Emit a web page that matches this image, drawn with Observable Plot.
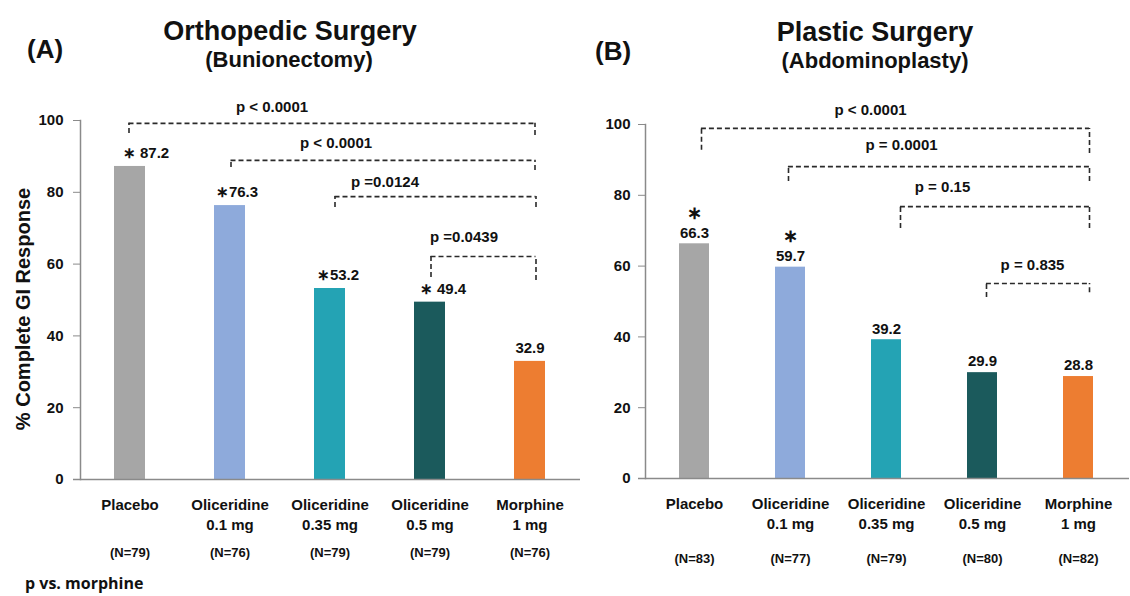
<!DOCTYPE html>
<html><head><meta charset="utf-8">
<script src="https://cdn.jsdelivr.net/npm/d3@7"></script>
<script src="https://cdn.jsdelivr.net/npm/@observablehq/plot@0.6"></script>
<style>
body{margin:0;background:#fff;}
#wrap{position:relative;width:1130px;height:596px;overflow:hidden;font-family:"Liberation Sans",Arial,sans-serif;color:#111;}
.t{position:absolute;font-weight:bold;white-space:nowrap;line-height:1;}
.c{transform:translateX(-50%);}
#pa{position:absolute;left:0;top:0;}
#pb{position:absolute;left:580px;top:0;}
</style></head><body>
<div id="wrap">
  <div id="pa"></div>
  <div id="pb"></div>
  <div class="t" style="left:27px;top:36px;font-size:26px;">(A)</div>
  <div class="t c" style="left:290px;top:18px;font-size:27px;">Orthopedic Surgery</div>
  <div class="t c" style="left:289px;top:49px;font-size:22px;">(Bunionectomy)</div>
  <div class="t" style="left:595px;top:38px;font-size:26px;">(B)</div>
  <div class="t c" style="left:875px;top:19px;font-size:27px;">Plastic Surgery</div>
  <div class="t c" style="left:875px;top:50px;font-size:22px;">(Abdominoplasty)</div>
  <div class="t" style="left:25px;top:575px;font-size:16px;font-family:'Open Sans',sans-serif;">p vs. morphine</div>
</div>
<script>
// ---- data ----
const categories = ["Placebo", "Oliceridine 0.1 mg", "Oliceridine 0.35 mg", "Oliceridine 0.5 mg", "Morphine 1 mg"];
const tickLabels = ["Placebo", "Oliceridine\n0.1 mg", "Oliceridine\n0.35 mg", "Oliceridine\n0.5 mg", "Morphine\n1 mg"];
const barColors = ["#a6a6a6", "#8eaadb", "#24a3b4", "#1b5a5c", "#ed7d31"];

const valuesA = [87.2, 76.3, 53.2, 49.4, 32.9];
const starredA = [true, true, true, true, false];
const nA = [79, 76, 79, 79, 76];

const valuesB = [66.3, 59.7, 39.2, 29.9, 28.8];
const starredB = [true, true, false, false, false];
const nB = [83, 77, 79, 80, 82];

const yTicks = [0, 20, 40, 60, 80, 100];
const yTitle = "% Complete GI Response";

// brackets: comparison vs morphine
const bracketsA = [
  {from: "Placebo", to: "Morphine 1 mg", top: 99.2, leftEnd: 96.4, rightEnd: 95.8, p: "p < 0.0001", labelY: 103.6},
  {from: "Oliceridine 0.1 mg", to: "Morphine 1 mg", top: 88.9, leftEnd: 86.9, rightEnd: 86.1, p: "p < 0.0001", labelY: 93.6},
  {from: "Oliceridine 0.35 mg", to: "Morphine 1 mg", top: 78.8, leftEnd: 75.8, rightEnd: 75.8, p: "p =0.0124", labelY: 82.7},
  {from: "Oliceridine 0.5 mg", to: "Morphine 1 mg", top: 62.1, leftEnd: 56.3, rightEnd: 55.4, p: "p =0.0439", labelY: 67.4}
];
const bracketsB = [
  {from: "Placebo", to: "Morphine 1 mg", top: 98.9, leftEnd: 92.7, rightEnd: 91.8, p: "p < 0.0001", labelY: 104.0},
  {from: "Oliceridine 0.1 mg", to: "Morphine 1 mg", top: 88.1, leftEnd: 83.9, rightEnd: 83.9, p: "p = 0.0001", labelY: 94.1},
  {from: "Oliceridine 0.35 mg", to: "Morphine 1 mg", top: 76.8, leftEnd: 70.6, rightEnd: 70.6, p: "p = 0.15", labelY: 82.2},
  {from: "Oliceridine 0.5 mg", to: "Morphine 1 mg", top: 55.1, leftEnd: 51.1, rightEnd: 52.5, p: "p = 0.835", labelY: 60.2}
];

// ---- layout nudges (pixels) ----
const nudgeA = [{l: -1, r: 5, t: -258}, {l: 1, r: 5, t: -194}, {l: 5, r: 6, t: -145}, {l: 1, r: 6, t: -66}];
const nudgeB = [{l: 7, r: 11, t: -208}, {l: -2, r: 11, t: -177}, {l: 14, r: 11, t: -136}, {l: 4, r: 11, t: -46}];
const valueLabelDxA = [16, 7, 8, 13, 0];

const FONT = "'Liberation Sans', Arial, sans-serif";
const PADI = 0.69, PADO = 0.345;
const INK = "#111";

function rows(values, starred, ns) {
  return categories.map((c, i) => ({cat: c, value: values[i], star: starred[i], n: ns[i], color: barColors[i], i}));
}

function bracketMarks(brs, nudges, bw) {
  const st = {stroke: "#2a2a2a", strokeWidth: 1.6, strokeDasharray: "5,3"};
  return brs.flatMap((b, i) => {
    const n = nudges[i];
    return [
      Plot.ruleX([b], {x: "from", y1: "leftEnd", y2: "top", dx: n.l, ...st}),
      Plot.ruleX([b], {x: "to", y1: "rightEnd", y2: "top", dx: n.r, ...st}),
      Plot.ruleY([b], {x1: "from", x2: "to", y: "top", insetLeft: bw / 2 + n.l, insetRight: bw / 2 - n.r, ...st}),
      Plot.text([b], {x: "to", y: "labelY", text: "p", dx: n.t, fontSize: 15, fill: INK})
    ];
  });
}

function panel(opts) {
  const {data, brs, nudges, width, height, mL, mR, mT, mB, tickPad, nDy, variant} = opts;
  const range = width - mL - mR;
  const step = range / (categories.length - PADI + 2 * PADO);
  const bw = step * (1 - PADI);
  const marks = [
    Plot.barY(data, {x: "cat", y: "value", fill: "color"}),
    Plot.ruleY([0], {stroke: "#8a8a8a", strokeWidth: 1.5, insetLeft: -7, insetRight: -3}),
    Plot.frame({anchor: "left", stroke: "#8a8a8a", strokeWidth: 1.5}),
    Plot.axisY({ticks: yTicks, tickSize: 7, tickPadding: tickPad, stroke: "#8a8a8a", fill: INK, fontSize: 15, label: null}),
    Plot.axisX({tickSize: 0, tickPadding: 16, tickFormat: (c) => tickLabels[categories.indexOf(c)], fontSize: 15, lineHeight: 1.33, fill: INK, label: null}),
    Plot.text(data, {x: "cat", y: 0, text: (d) => `(N=${d.n})`, dy: nDy, fontSize: 13, fill: INK}),
    ...bracketMarks(brs, nudges, bw)
  ];
  if (variant === "A") {
    for (const d of data) {
      marks.push(Plot.text([d], {
        x: "cat", y: "value",
        text: (r) => (r.star ? (r.i === 0 || r.i === 3 ? "\u2217 " : "\u2217") : "") + r.value.toFixed(1),
        dx: valueLabelDxA[d.i], dy: -13, fontSize: 15, fill: INK
      }));
    }
    marks.push(Plot.text([yTitle], {text: (d) => d, frameAnchor: "left", textAnchor: "middle", rotate: -90, dx: -57, dy: 9, fontSize: 20, fill: INK}));
  } else {
    marks.push(Plot.text(data, {x: "cat", y: "value", text: (d) => d.value.toFixed(1), dy: -11, fontSize: 15, fill: INK}));
    marks.push(Plot.text(data.filter((d) => d.star), {x: "cat", y: "value", text: () => "\u2217", dy: -31, fontSize: 18, fill: INK}));
  }
  return Plot.plot({
    width, height,
    marginLeft: mL, marginRight: mR, marginTop: mT, marginBottom: mB,
    style: {fontFamily: FONT, fontWeight: "bold", fontSize: "15px", background: "transparent", color: INK},
    x: {type: "band", domain: categories, paddingInner: PADI, paddingOuter: PADO},
    y: {domain: [0, 100]},
    color: {type: "identity"},
    marks
  });
}

const dataA = rows(valuesA, starredA, nA);
const dataB = rows(valuesB, starredB, nB);

const plotA = panel({data: dataA, brs: bracketsA, nudges: nudgeA, width: 580, height: 596, mL: 80, mR: 0, mT: 120, mB: 117, tickPad: 10, nDy: 73, variant: "A"});
document.getElementById("pa").appendChild(plotA);

const plotB = panel({data: dataB, brs: bracketsB, nudges: nudgeB, width: 550, height: 596, mL: 65, mR: 4, mT: 124, mB: 118, tickPad: 8, nDy: 80, variant: "B"});
document.getElementById("pb").appendChild(plotB);
</script>
</body></html>
